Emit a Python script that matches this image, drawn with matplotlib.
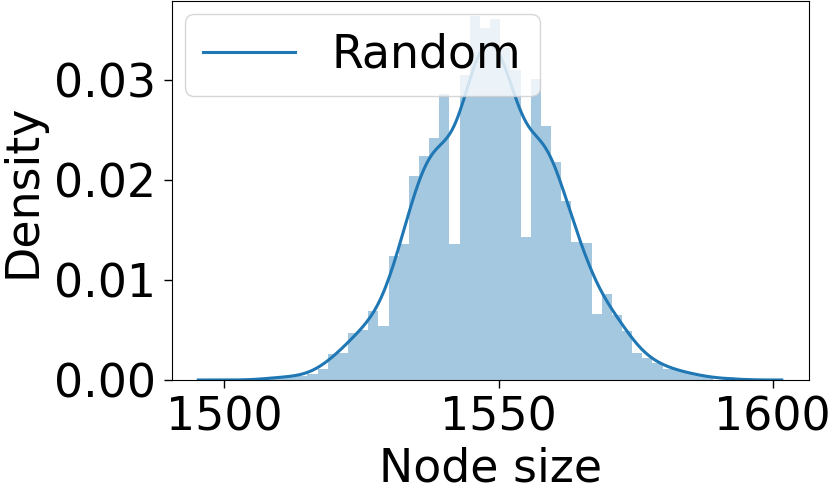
import numpy as np
import matplotlib
matplotlib.use("Agg")
import matplotlib.pyplot as plt

# ---- data ----
data_min = 1504.05         # smallest node size
data_max = 1592.85         # largest node size
n_bins = 48
hist_density = [
    0.0000, 0.0000, 0.0003, 0.0003, 0.0003, 0.0004,
    0.0006, 0.0011, 0.0026, 0.0027, 0.0047, 0.0050, 0.0069, 0.0054,
    0.0124, 0.0136, 0.0204, 0.0224, 0.0242, 0.0286, 0.0136, 0.0305,
    0.0364, 0.0352, 0.0361, 0.0332, 0.0310, 0.0143, 0.0301, 0.0254,
    0.0218, 0.0179, 0.0138, 0.0137, 0.0066, 0.0086, 0.0065, 0.0049,
    0.0027, 0.0022, 0.0017, 0.0011, 0.0010, 0.0007,
    0.0005, 0.0003, 0.0000, 0.0003,
]
kde_bandwidth = 2.93
series_label = "Random"
x_ticks = [1500, 1550, 1600]
y_ticks = [0.00, 0.01, 0.02, 0.03]

# ---- figure ----
plt.rcParams["font.family"] = ["DejaVu Sans"]
W, H = 831, 494
FS = 33
fig = plt.figure(figsize=(W / 100, H / 100), dpi=100)
ax = fig.add_axes([171.7 / W, (H - 380) / H, (809 - 171.7) / W, 379 / H])

edges = np.linspace(data_min, data_max, n_bins + 1)
widths = np.diff(edges)
heights = np.array(hist_density)
ax.bar(edges[:-1], heights, width=widths, align="edge",
       color="C0", alpha=0.4, linewidth=0)

# KDE from the binned distribution
centers = 0.5 * (edges[:-1] + edges[1:])
probs = heights * widths
probs = probs / probs.sum()
grid = np.linspace(data_min - 3 * kde_bandwidth, data_max + 3 * kde_bandwidth, 300)
dens = (probs[None, :] * np.exp(-0.5 * ((grid[:, None] - centers[None, :]) / kde_bandwidth) ** 2)
        ).sum(axis=1) / (kde_bandwidth * np.sqrt(2 * np.pi))
ax.plot(grid, dens, color="C0", linewidth=2.2, label=series_label)

ax.set_xlim(1490.4, 1606.6)
ax.set_ylim(0, 0.0379)
ax.set_xticks(x_ticks)
ax.set_yticks(y_ticks)
ax.set_yticklabels([f"{v:.2f}" for v in y_ticks])
ax.tick_params(axis="both", labelsize=FS, length=6, width=1, pad=5.5)
ax.set_xlabel("Node size", fontsize=FS)
ax.set_ylabel("Density", fontsize=FS, labelpad=6)
ax.legend(loc="upper left", fontsize=FS, borderaxespad=0.29)

fig.savefig("out.png", dpi=100)
